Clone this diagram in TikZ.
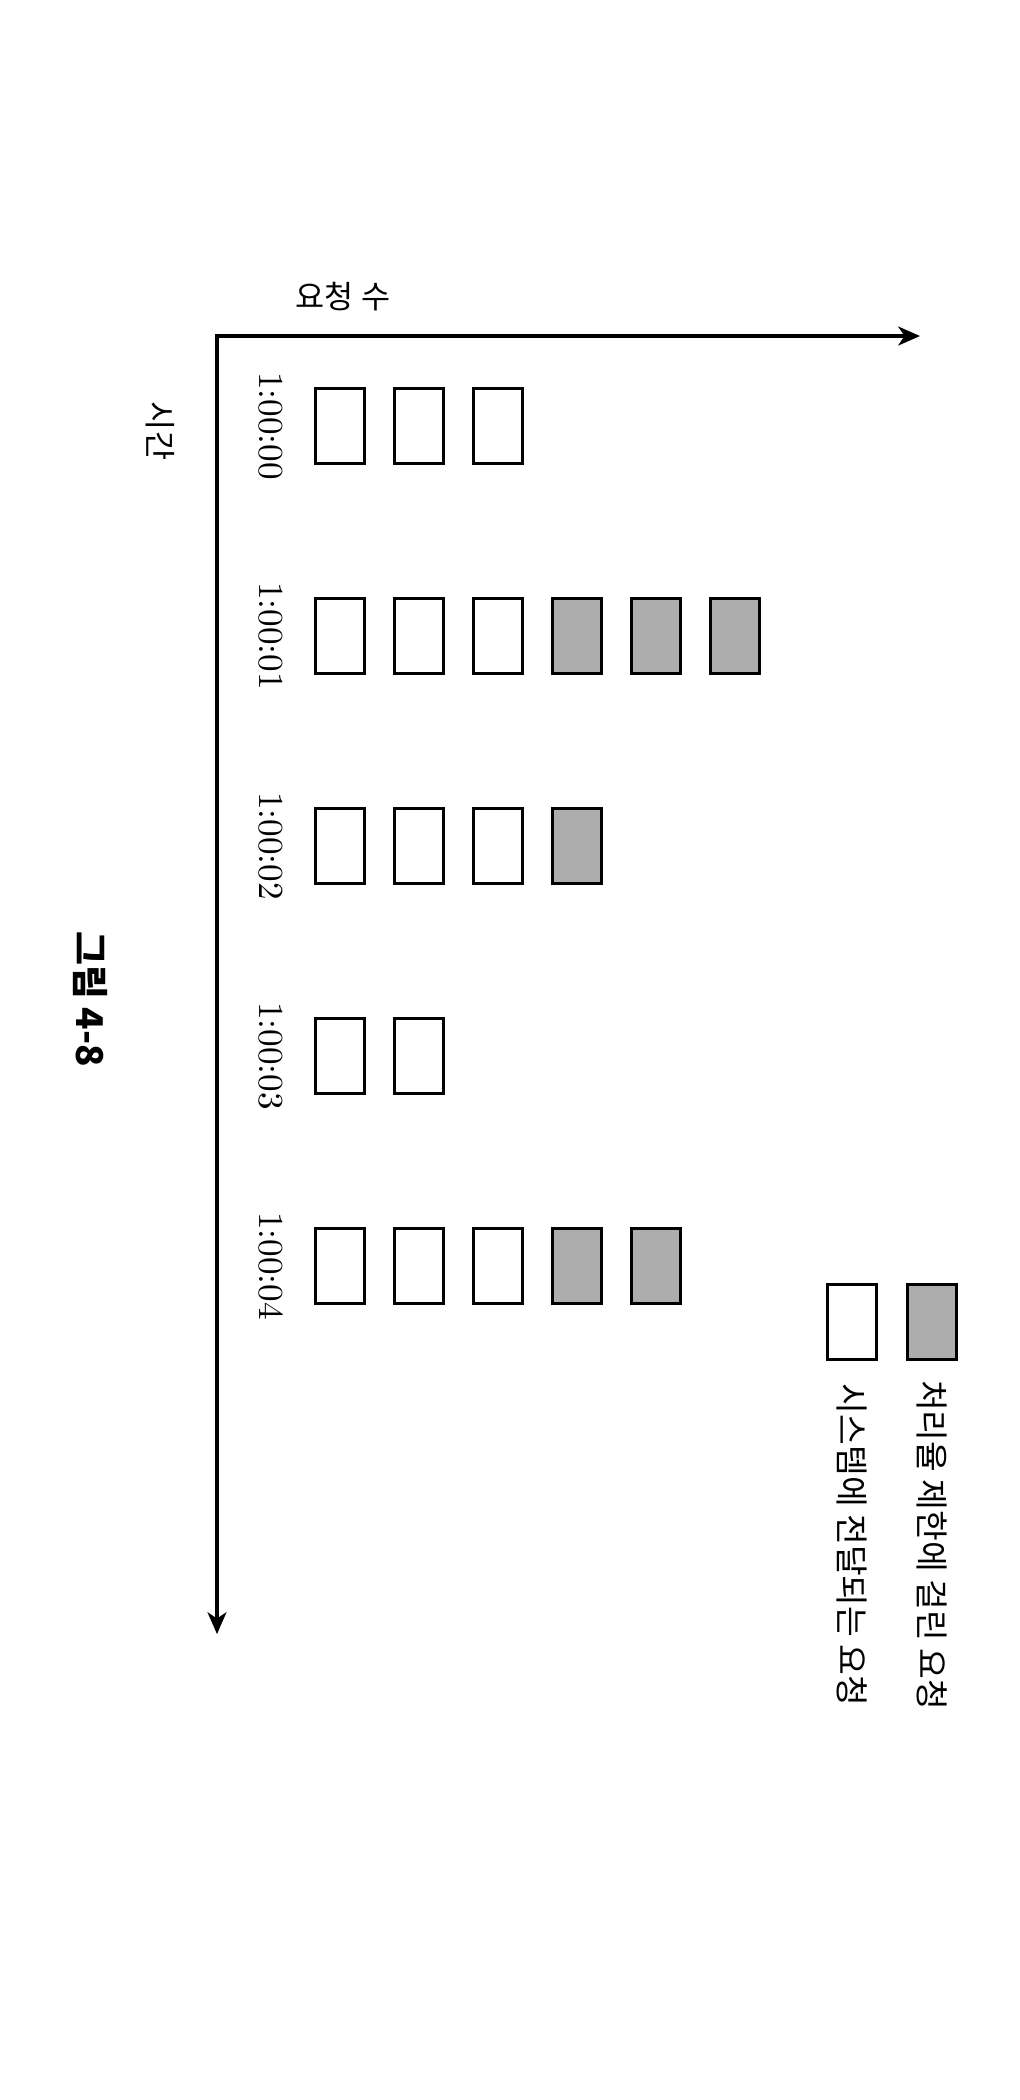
\documentclass[tikz,border=0pt]{standalone}
\usepackage{fontspec}
\usepackage{tikz}
\usetikzlibrary{arrows.meta, positioning}
\newfontfamily\kr{Noto Sans CJK KR}
\definecolor{dropgray}{gray}{0.68}

\begin{document}
\begin{tikzpicture}[>={Stealth[length=6.2pt,width=5.4pt,inset=1.8pt]},line width=0.9pt,node distance=0.79cm,
        pass/.style={draw,fill=white,inner sep=0pt,minimum width=0.49cm,minimum height=0.75cm},
        drop/.style={pass,fill=dropgray},
        stamp/.style={rotate=-90,font=\fontsize{10}{12}\selectfont},
        kr label/.style={font=\kr\fontsize{9}{11}\selectfont},
        kr note/.style={rotate=-90,font=\kr\fontsize{9.5}{11}\selectfont},
        kr caption/.style={rotate=-90,font=\kr\bfseries\fontsize{10.5}{12}\selectfont}]
                \useasboundingbox (0,0) rectangle (10.2,-21);
                % axes
                \coordinate (origin) at (2.17,-3.36);
                \coordinate (countend) at (9.20,-3.36);
                \coordinate (timeend) at (2.17,-16.34);
                \draw[<->] (countend) -- (origin) -- (timeend);
                \node[kr label] (count) at (3.43,-2.97) {요청 수};
                \node[kr label, rotate=-90] (time) at (1.60,-4.31) {시간};

                % 1:00:00
                \node[pass] (t0-1) at (3.40,-4.26) {};
                \node[pass] (t0-2) [right of = t0-1] {};
                \node[pass] (t0-3) [right of = t0-2] {};
                \node (l0) [node distance=0.69cm, left of = t0-1, stamp] {1:00:00};

                % 1:00:01
                \node[pass] (t1-1) [node distance=2.1cm, below of = t0-1] {};
                \node[pass] (t1-2) [right of = t1-1] {};
                \node[pass] (t1-3) [right of = t1-2] {};
                \node[drop] (t1-4) [right of = t1-3] {};
                \node[drop] (t1-5) [right of = t1-4] {};
                \node[drop] (t1-6) [right of = t1-5] {};
                \node (l1) [node distance=0.69cm, left of = t1-1, stamp] {1:00:01};

                % 1:00:02
                \node[pass] (t2-1) [node distance=2.1cm, below of = t1-1] {};
                \node[pass] (t2-2) [right of = t2-1] {};
                \node[pass] (t2-3) [right of = t2-2] {};
                \node[drop] (t2-4) [right of = t2-3] {};
                \node (l2) [node distance=0.69cm, left of = t2-1, stamp] {1:00:02};

                % 1:00:03
                \node[pass] (t3-1) [node distance=2.1cm, below of = t2-1] {};
                \node[pass] (t3-2) [right of = t3-1] {};
                \node (l3) [node distance=0.69cm, left of = t3-1, stamp] {1:00:03};

                % 1:00:04
                \node[pass] (t4-1) [node distance=2.1cm, below of = t3-1] {};
                \node[pass] (t4-2) [right of = t4-1] {};
                \node[pass] (t4-3) [right of = t4-2] {};
                \node[drop] (t4-4) [right of = t4-3] {};
                \node[drop] (t4-5) [right of = t4-4] {};
                \node (l4) [node distance=0.69cm, left of = t4-1, stamp] {1:00:04};

                % legend
                \node[drop] (keydrop) at (9.32,-13.22) {};
                \node[pass] (keypass) [node distance=0.8cm, left of = keydrop] {};
                \node (droptext) [node distance=2.23cm, below of = keydrop, kr note] {처리율 제한에 걸린 요청};
                \node (passtext) [node distance=2.23cm, below of = keypass, kr note] {시스템에 전달되는 요청};

                \node[kr caption] (caption) at (0.90,-9.99) {그림 4-8};
            \end{tikzpicture}
\end{document}
